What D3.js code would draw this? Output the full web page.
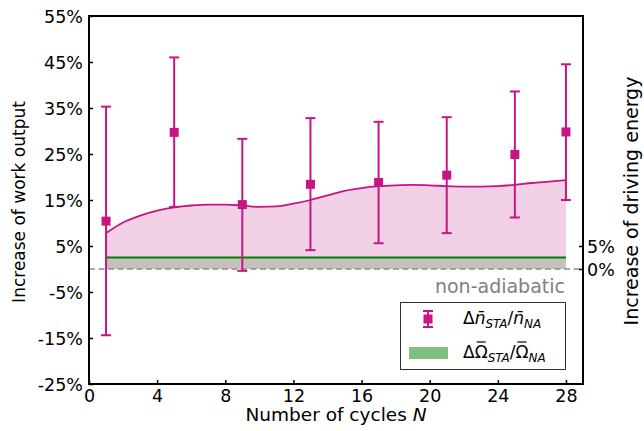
<!DOCTYPE html>
<html>
<head>
<meta charset="utf-8">
<script src="https://cdn.jsdelivr.net/npm/d3@7"></script>
<style>
  body { margin: 0; background: white; }
  svg { font-family: "DejaVu Sans", sans-serif; }
</style>
</head>
<body>
<div id="chart"></div>
<script>
// datos
var cycles = [1, 5, 9, 13, 17, 21, 25, 28];
var workGain = [10.4, 29.7, 14.0, 18.4, 18.8, 20.4, 24.9, 29.8];
var errTop = [35.3, 46.0, 28.3, 32.8, 32.0, 33.0, 38.6, 44.5];
var errBottom = [-14.4, 13.5, -0.4, 4.1, 5.6, 7.8, 11.2, 15.0];

// curva suave (ajuste)
var fitX = [1, 2, 3, 4, 5, 6, 7, 8, 9, 10, 11, 12, 13, 14, 15, 16, 17, 18, 19, 20, 21, 22, 23, 24, 25, 26, 27, 28];
var fitY = [7.8, 10.1, 11.6, 12.7, 13.4, 13.8, 14.0, 14.0, 13.8, 13.5, 13.6, 14.2, 15.0, 16.0, 17.0, 17.6, 18.0, 18.2, 18.3, 18.2, 18.0, 17.9, 17.9, 18.0, 18.3, 18.7, 19.0, 19.3];

// energia de control
var energyX = [1, 28];
var energyGain = 2.5;

var xTicks = [0, 4, 8, 12, 16, 20, 24, 28];
var yTicksLeft = [-25, -15, -5, 5, 15, 25, 35, 45, 55];
var yTicksRight = [0, 5];

var width = 644, height = 431;
var margin = { top: 16, bottom: 47, left: 89, right: 61 };
var magenta = "#c71585";
var tickFont = 17.5;

var svg = d3.select("#chart").append("svg")
  .attr("width", width).attr("height", height);

var escalaX = d3.scaleLinear().domain([0, 29])
  .range([margin.left, width - margin.right]);
var escalaY = d3.scaleLinear().domain([-25, 55])
  .range([height - margin.bottom, margin.top]);

// relleno rosa bajo la curva
var area = d3.area()
  .x(function (d, i) { return escalaX(fitX[i]); })
  .y0(escalaY(0))
  .y1(function (d) { return escalaY(d); })
  .curve(d3.curveMonotoneX);
svg.append("path").datum(fitY)
  .attr("d", area).attr("fill", "#f2d0e5");

// relleno gris de la energia
svg.append("rect")
  .attr("x", escalaX(energyX[0]))
  .attr("width", escalaX(energyX[1]) - escalaX(energyX[0]))
  .attr("y", escalaY(energyGain))
  .attr("height", escalaY(0) - escalaY(energyGain))
  .attr("fill", "#c5c2bc");

// linea cero discontinua
svg.append("line")
  .attr("x1", escalaX(0)).attr("x2", escalaX(29))
  .attr("y1", escalaY(0)).attr("y2", escalaY(0))
  .attr("stroke", "#8c8c8c").attr("stroke-width", 1.6)
  .attr("stroke-dasharray", "6,3.5");

// linea verde
svg.append("line")
  .attr("x1", escalaX(energyX[0])).attr("x2", escalaX(energyX[1]))
  .attr("y1", escalaY(energyGain)).attr("y2", escalaY(energyGain))
  .attr("stroke", "#008000").attr("stroke-width", 2);

// curva ajustada
var line = d3.line()
  .x(function (d, i) { return escalaX(fitX[i]); })
  .y(function (d) { return escalaY(d); })
  .curve(d3.curveMonotoneX);
svg.append("path").datum(fitY)
  .attr("d", line).attr("fill", "none")
  .attr("stroke", magenta).attr("stroke-width", 1.8);

// barras de error
var bars = svg.append("g");
cycles.forEach(function (c, i) {
  var x = escalaX(c);
  bars.append("line")
    .attr("x1", x).attr("x2", x)
    .attr("y1", escalaY(errTop[i])).attr("y2", escalaY(errBottom[i]))
    .attr("stroke", magenta).attr("stroke-width", 2);
  [errTop[i], errBottom[i]].forEach(function (v) {
    bars.append("line")
      .attr("x1", x - 5).attr("x2", x + 5)
      .attr("y1", escalaY(v)).attr("y2", escalaY(v))
      .attr("stroke", magenta).attr("stroke-width", 2);
  });
  bars.append("rect")
    .attr("x", x - 4.5).attr("y", escalaY(workGain[i]) - 4.5)
    .attr("width", 9).attr("height", 9)
    .attr("fill", magenta);
});

// texto non-adiabatic
svg.append("text")
  .attr("x", 565).attr("y", 293)
  .attr("text-anchor", "end")
  .attr("font-size", 19).attr("fill", "#808080")
  .text("non-adiabatic");

// leyenda
var leg = svg.append("g");
leg.append("rect")
  .attr("x", 400.5).attr("y", 302.5).attr("width", 165).attr("height", 67)
  .attr("fill", "white").attr("stroke", "#333").attr("stroke-width", 1);
leg.append("line")
  .attr("x1", 428).attr("x2", 428).attr("y1", 311).attr("y2", 327)
  .attr("stroke", magenta).attr("stroke-width", 2);
leg.append("line").attr("x1", 423).attr("x2", 433).attr("y1", 311).attr("y2", 311)
  .attr("stroke", magenta).attr("stroke-width", 2);
leg.append("line").attr("x1", 423).attr("x2", 433).attr("y1", 327).attr("y2", 327)
  .attr("stroke", magenta).attr("stroke-width", 2);
leg.append("rect").attr("x", 423.5).attr("y", 314.5).attr("width", 9).attr("height", 9)
  .attr("fill", magenta);
leg.append("rect").attr("x", 409).attr("y", 347).attr("width", 39).attr("height", 12)
  .attr("fill", "#7fbf7f");

function mathLabel(y, sym, italicSym) {
  var t = leg.append("text").attr("x", 463).attr("y", y).attr("font-size", 17);
  t.append("tspan").text("Δ");
  var s1 = t.append("tspan").attr("font-style", italicSym ? "italic" : "normal");
  t.append("tspan").attr("font-style", "italic").attr("font-size", 12).attr("dy", 4).text("STA");
  t.append("tspan").attr("dy", -4).text("/");
  var s2 = t.append("tspan").attr("font-style", italicSym ? "italic" : "normal");
  t.append("tspan").attr("font-style", "italic").attr("font-size", 12).attr("dy", 4).text("NA");
  if (italicSym) {
    s1.text(sym + "\u0304");
    s2.text(sym + "\u0304");
  } else {
    // barra dibujada a mano sobre la letra
    s1.text(sym);
    s2.text(sym);
    [s1, s2].forEach(function (s) {
      var n = s.node();
      var p = n.getStartPositionOfChar(0);
      var w = n.getComputedTextLength();
      leg.append("line")
        .attr("x1", p.x + 2).attr("x2", p.x + w - 2)
        .attr("y1", y - 16).attr("y2", y - 16)
        .attr("stroke", "#000").attr("stroke-width", 1.2);
    });
  }
}
mathLabel(324, "n", true);
mathLabel(358, "Ω", false);

// ejes
var ejeX = d3.axisBottom(escalaX).tickValues(xTicks).tickSizeInner(-4).tickSizeOuter(0).tickPadding(6);
var ejeY = d3.axisLeft(escalaY).tickValues(yTicksLeft).tickSizeInner(-4).tickSizeOuter(0).tickPadding(6)
  .tickFormat(function (d) { return d + "%"; });
var ejeY2 = d3.axisRight(escalaY).tickValues(yTicksRight).tickSizeInner(-4).tickSizeOuter(0).tickPadding(4)
  .tickFormat(function (d) { return d + "%"; });

var gx = svg.append("g").attr("transform", "translate(0," + (height - margin.bottom) + ")").call(ejeX);
var gy = svg.append("g").attr("transform", "translate(" + margin.left + ",0)").call(ejeY);
var gy2 = svg.append("g").attr("transform", "translate(" + (width - margin.right) + ",0)").call(ejeY2);

[gx, gy, gy2].forEach(function (g) {
  g.selectAll("text").attr("font-size", tickFont).attr("fill", "#000")
    .attr("font-family", "DejaVu Sans");
  g.selectAll(".tick line").attr("stroke", "#000").attr("stroke-width", 1.5);
  g.select(".domain").remove();
});
gy.selectAll("text").attr("dy", "0.36em");
gy2.selectAll("text").attr("dy", "0.36em");

// marco
svg.append("rect")
  .attr("x", margin.left).attr("y", margin.top)
  .attr("width", width - margin.left - margin.right)
  .attr("height", height - margin.top - margin.bottom)
  .attr("fill", "none").attr("stroke", "#000").attr("stroke-width", 2);

// etiquetas de ejes
var xl = svg.append("text")
  .attr("x", (margin.left + width - margin.right) / 2).attr("y", 421)
  .attr("text-anchor", "middle").attr("font-size", 18.5);
xl.append("tspan").text("Number of cycles ");
xl.append("tspan").attr("font-style", "italic").text("N");

svg.append("text")
  .attr("transform", "translate(25,202) rotate(-90)")
  .attr("text-anchor", "middle").attr("font-size", 17)
  .text("Increase of work output");

svg.append("text")
  .attr("transform", "translate(638,201) rotate(-90)")
  .attr("text-anchor", "middle").attr("font-size", 19)
  .text("Increase of driving energy");
</script>
</body>
</html>
